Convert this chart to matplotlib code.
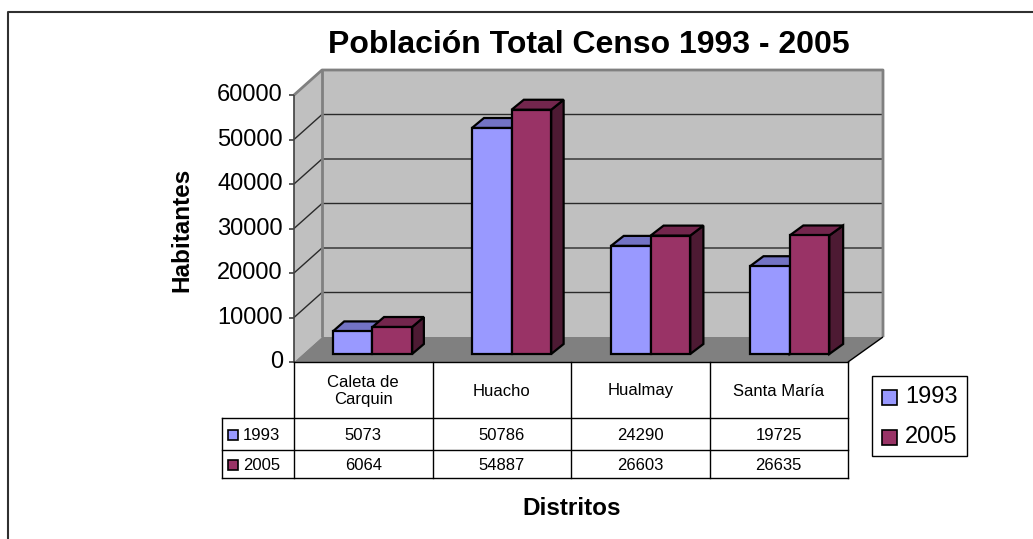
import matplotlib
matplotlib.use("Agg")
import matplotlib.pyplot as plt
from matplotlib.patches import Polygon, Rectangle
from matplotlib.lines import Line2D

# ---------------- data ----------------
categories = ["Caleta de\nCarquin", "Huacho", "Hualmay", "Santa María"]
series_names = ["1993", "2005"]
values_1993 = [5073, 50786, 24290, 19725]
values_2005 = [6064, 54887, 26603, 26635]
yticks = [0, 10000, 20000, 30000, 40000, 50000, 60000]
title = "Población Total Censo 1993 - 2005"
ylabel = "Habitantes"
xlabel = "Distritos"

front_colors = ["#9999FF", "#993366"]
top_colors = ["#7373C4", "#73264D"]
side_colors = ["#4D4D80", "#4D1A33"]

plt.rcParams["font.family"] = ["Liberation Sans", "DejaVu Sans"]

W, H = 1033, 539
fig = plt.figure(figsize=(W / 100, H / 100), dpi=100)
fig.patch.set_facecolor("white")
ax = fig.add_axes([0, 0, 1, 1])
ax.axis("off")

# layout (pixels)
X0 = 294.0          # front-left of plot floor
CAT_W = 138.5       # pixels per category
Y0 = 362.0          # pixel row of value 0 on the front plane
VMAX = 60000.0
PXV = 267.0 / VMAX  # pixels per unit value
ax.set_xlim(-X0 / CAT_W, (W - X0) / CAT_W)
ax.set_ylim(-(H - Y0) / PXV, Y0 / PXV)

DEPTH_V = 25.0 / PXV   # vertical shift (value units) of the full depth


def proj(x, v, d):
    dxpx = (28.0 + 7.0 * x / len(categories)) * d
    return (x + dxpx / CAT_W, v + d * DEPTH_V)


def poly(pts, fc, ec="none", lw=0, z=1):
    ax.add_patch(Polygon(pts, closed=True, facecolor=fc, edgecolor=ec,
                         linewidth=lw, zorder=z, joinstyle="miter"))


def line(pts, color, lw, z=2):
    xs = [p[0] for p in pts]
    ys = [p[1] for p in pts]
    ax.add_line(Line2D(xs, ys, color=color, linewidth=lw, zorder=z,
                       solid_capstyle="butt"))


N = len(categories)
# walls
poly([proj(0, 0, 1), proj(N, 0, 1), proj(N, VMAX, 1), proj(0, VMAX, 1)],
     "#C0C0C0", z=1)
poly([proj(0, 0, 0), proj(0, 0, 1), proj(0, VMAX, 1), proj(0, VMAX, 0)],
     "#C0C0C0", z=1)
# gridlines
for t in yticks[1:-1]:
    line([proj(0, t, 0), proj(0, t, 1), proj(N, t, 1)], "#2a2a2a", 1.0, z=2)
# wall edges
line([proj(0, VMAX, 0), proj(0, VMAX, 1), proj(N, VMAX, 1), proj(N, 0, 1)],
     "#808080", 2.0, z=2)
line([proj(0, 0, 1), proj(0, VMAX, 1)], "#808080", 2.0, z=2)
# floor
poly([proj(0, 0, 0), proj(N, 0, 0), proj(N, 0, 1), proj(0, 0, 1)],
     "#808080", z=3)
line([proj(N, 0, 0), proj(N, 0, 1)], "#000000", 1.0, z=3)

# bars
BW = 0.285
D0, D1 = 0.32, 0.72
series = [values_1993, values_2005]
for i in range(N):
    for j, vals in enumerate(series):
        v = vals[i]
        xl = i + 0.5 + (j - 1) * BW
        xr = xl + BW
        z = 10 + i * 3 + j
        poly([proj(xr, 0, D0), proj(xr, 0, D1), proj(xr, v, D1), proj(xr, v, D0)],
             side_colors[j], "black", 1.6, z)
        poly([proj(xl, v, D0), proj(xr, v, D0), proj(xr, v, D1), proj(xl, v, D1)],
             top_colors[j], "black", 1.6, z)
        poly([proj(xl, 0, D0), proj(xr, 0, D0), proj(xr, v, D0), proj(xl, v, D0)],
             front_colors[j], "black", 1.6, z)

# y axis
line([proj(0, 0, 0), proj(0, VMAX, 0)], "#404040", 1.2, z=5)
tick_len = 5.0 / CAT_W
for t in yticks:
    line([(-tick_len, t), (0, t)], "#404040", 1.2, z=5)
    ax.text(-11.0 / CAT_W, t, f"{t}", ha="right", va="center", fontsize=17,
            color="black")


# ---------------- figure-pixel helpers ----------------
def fx(px):
    return px / W


def fy(py):
    return 1 - py / H


def to_px_x(x):
    return X0 + x * CAT_W


def fline(xs, ys, color="black", lw=1.0):
    fig.add_artist(Line2D([fx(x) for x in xs], [fy(y) for y in ys],
                          color=color, linewidth=lw,
                          transform=fig.transFigure, solid_capstyle="projecting"))


# outer border
fline([8, 8, W + 5], [H + 5, 12, 12], color="#303030", lw=1.5)

# data table
T_TOP, T_R1, T_R2, T_BOT = 362, 418, 450, 478
T_LEFT = 222
xb = [to_px_x(k) for k in range(N + 1)]
fline([xb[0], xb[-1]], [T_TOP, T_TOP])
fline([T_LEFT, xb[-1]], [T_R1, T_R1])
fline([T_LEFT, xb[-1]], [T_R2, T_R2])
fline([T_LEFT, xb[-1]], [T_BOT, T_BOT])
fline([T_LEFT, T_LEFT], [T_R1, T_BOT])
for xk in xb:
    fline([xk, xk], [T_TOP, T_BOT])

for k, cat in enumerate(categories):
    cx = (xb[k] + xb[k + 1]) / 2
    fig.text(fx(cx), fy((T_TOP + T_R1) / 2 + 1), cat, ha="center", va="center",
             fontsize=12, linespacing=1.15)
    fig.text(fx(cx), fy((T_R1 + T_R2) / 2 + 1), f"{values_1993[k]}",
             ha="center", va="center", fontsize=12)
    fig.text(fx(cx), fy((T_R2 + T_BOT) / 2 + 1), f"{values_2005[k]}",
             ha="center", va="center", fontsize=12)

for j, (name, rows) in enumerate(zip(series_names, [(T_R1, T_R2), (T_R2, T_BOT)])):
    cy = (rows[0] + rows[1]) / 2 + 1
    fig.add_artist(Rectangle((fx(228), fy(cy + 5)), 10 / W, 10 / H,
                             facecolor=front_colors[j], edgecolor="black",
                             linewidth=1.2, transform=fig.transFigure))
    fig.text(fx(243), fy(cy), name, ha="left", va="center", fontsize=12)

# legend
fig.add_artist(Rectangle((fx(872), fy(456)), 95 / W, 80 / H, facecolor="white",
                         edgecolor="black", linewidth=1.0,
                         transform=fig.transFigure))
for j, (name, cy) in enumerate(zip(series_names, [397, 437])):
    fig.add_artist(Rectangle((fx(882), fy(cy + 7.5)), 15 / W, 15 / H,
                             facecolor=front_colors[j], edgecolor="black",
                             linewidth=1.2, transform=fig.transFigure))
    fig.text(fx(905), fy(cy), name, ha="left", va="center", fontsize=17)

# titles
fig.text(fx(589), fy(53), title, ha="center", va="baseline", fontsize=23,
         fontweight="bold")
fig.text(fx(182), fy(230), ylabel, ha="center", va="center", rotation=90,
         fontsize=17.5, fontweight="bold")
fig.text(fx(572), fy(515), xlabel, ha="center", va="baseline", fontsize=17.5,
         fontweight="bold")

fig.savefig("out.png", dpi=100, facecolor="white")
